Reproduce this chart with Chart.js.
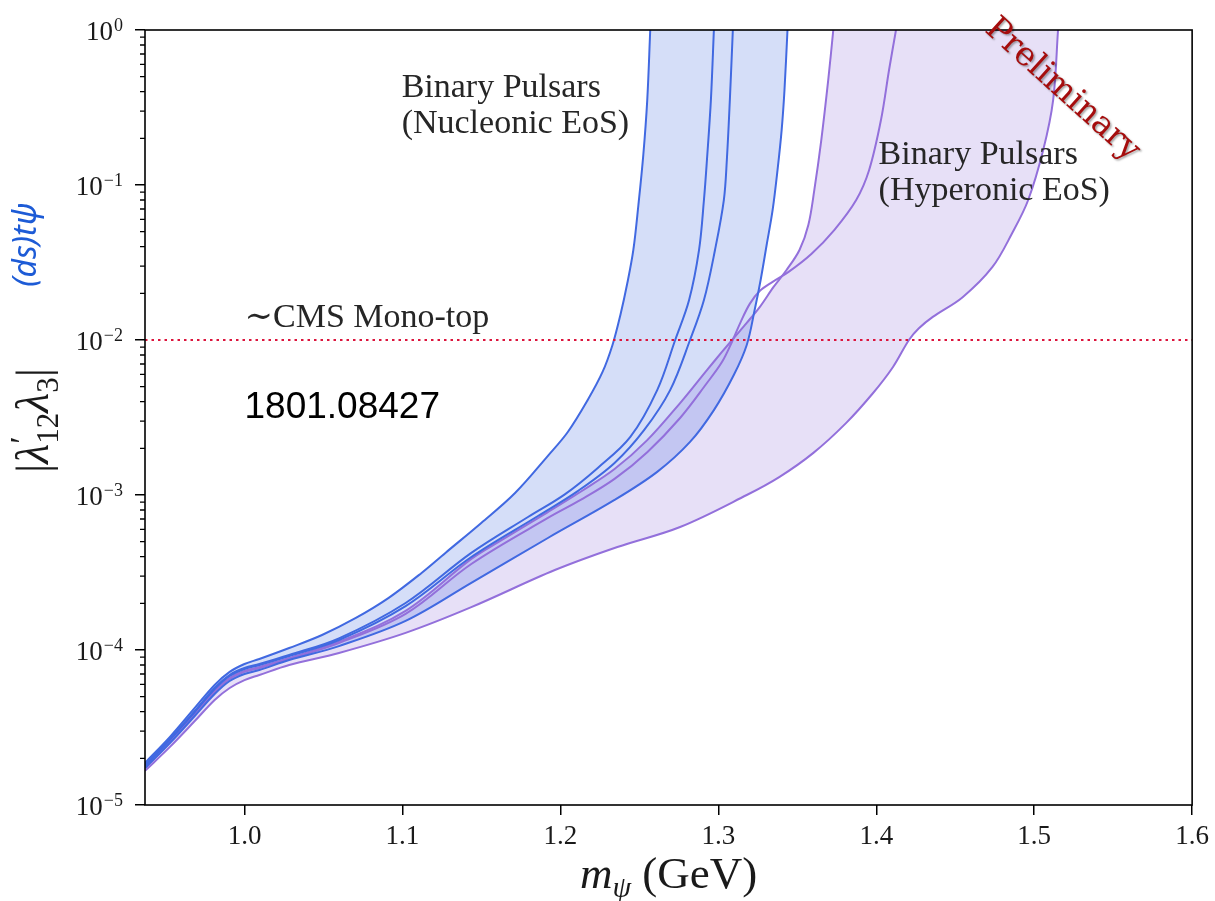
<!DOCTYPE html>
<html>
<head>
<meta charset="utf-8">
<title>Binary pulsar bounds</title>
<script src="https://cdn.jsdelivr.net/npm/chart.js@4.4.1/dist/chart.umd.min.js"></script>
<style>
  body { margin: 0; background: #fff; }
  #box { position: relative; width: 1215px; height: 901px; }
</style>
</head>
<body>
<div id="box"><canvas id="chart"></canvas></div>
<script>
// curves: m_psi (GeV) vs |lambda'_12 lambda_3|
// nucleonic EoS (blue), left edge to right edge
const nucAx = [0.9370, 0.9528, 0.9685, 0.9811, 0.9906, 1.0000, 1.0094, 1.0283, 1.0491, 1.0705, 1.0913, 1.1121, 1.1272, 1.1499, 1.1713, 1.1921, 1.2047, 1.2173, 1.2267, 1.2330, 1.2380, 1.2424, 1.2462, 1.2494, 1.2525, 1.2550, 1.2569];
const nucAy = [1.87e-5, 2.75e-5, 4.23e-5, 5.95e-5, 7.22e-5, 8.12e-5, 8.75e-5, 1.03e-4, 1.25e-4, 1.61e-4, 2.17e-4, 3.14e-4, 4.23e-4, 6.60e-4, 1.03e-3, 1.79e-3, 2.55e-3, 4.10e-3, 6.22e-3, 9.29e-3, 1.45e-2, 2.33e-2, 3.81e-2, 7.43e-2, 0.156, 0.353, 1];
const nucBx = [0.9370, 0.9528, 0.9685, 0.9811, 0.9906, 1.0000, 1.0094, 1.0283, 1.0598, 1.1020, 1.1436, 1.1795, 1.2028, 1.2235, 1.2443, 1.2613, 1.2727, 1.2815, 1.2878, 1.2909, 1.2928, 1.2953, 1.2972];
const nucBy = [1.81e-5, 2.67e-5, 4.04e-5, 5.69e-5, 6.90e-5, 7.65e-5, 8.12e-5, 9.29e-5, 1.19e-4, 2.01e-4, 4.23e-4, 7.21e-4, 1.01e-3, 1.49e-3, 2.37e-3, 4.75e-3, 1.00e-2, 1.81e-2, 3.81e-2, 8.00e-2, 0.145, 0.353, 1];
const nucCx = [0.9370, 0.9528, 0.9685, 0.9811, 0.9906, 1.0000, 1.0094, 1.0283, 1.0598, 1.1020, 1.1436, 1.1858, 1.2110, 1.2343, 1.2531, 1.2695, 1.2821, 1.2909, 1.2979, 1.3035, 1.3054, 1.3073, 1.3092];
const nucCy = [1.79e-5, 2.63e-5, 3.98e-5, 5.60e-5, 6.80e-5, 7.54e-5, 8.00e-5, 9.15e-5, 1.16e-4, 1.92e-4, 3.98e-4, 7.32e-4, 1.06e-3, 1.61e-3, 2.63e-3, 4.75e-3, 1.00e-2, 1.81e-2, 3.81e-2, 8.00e-2, 0.145, 0.353, 1];
const nucDx = [0.9370, 0.9528, 0.9685, 0.9811, 0.9906, 1.0000, 1.0094, 1.0283, 1.0598, 1.1020, 1.1436, 1.1921, 1.2343, 1.2613, 1.2821, 1.2972, 1.3098, 1.3180, 1.3230, 1.3268, 1.3306, 1.3344, 1.3375, 1.3401, 1.3419, 1.3438];
const nucDy = [1.73e-5, 2.51e-5, 3.75e-5, 5.20e-5, 6.31e-5, 7.00e-5, 7.43e-5, 8.61e-5, 1.06e-4, 1.54e-4, 2.71e-4, 5.28e-4, 9.29e-4, 1.41e-3, 2.20e-3, 3.53e-3, 5.94e-3, 9.29e-3, 1.56e-2, 2.44e-2, 4.10e-2, 6.90e-2, 0.125, 0.226, 0.410, 1];

// hyperonic EoS (purple)
const hypAx = [0.9370, 0.9528, 0.9685, 0.9811, 0.9906, 1.0000, 1.0094, 1.0283, 1.0598, 1.1020, 1.1436, 1.1606, 1.1921, 1.2128, 1.2343, 1.2550, 1.2758, 1.2928, 1.3023, 1.3098, 1.3180, 1.3262, 1.3350, 1.3432, 1.3514, 1.3570, 1.3608, 1.3652, 1.3696, 1.3728];
const hypAy = [1.76e-5, 2.59e-5, 3.92e-5, 5.44e-5, 6.59e-5, 7.32e-5, 7.77e-5, 8.88e-5, 1.13e-4, 1.79e-4, 3.87e-4, 4.97e-4, 7.76e-4, 1.05e-3, 1.47e-3, 2.26e-3, 3.92e-3, 6.40e-3, 8.37e-3, 1.03e-2, 1.29e-2, 1.63e-2, 2.20e-2, 2.83e-2, 3.81e-2, 5.52e-2, 9.29e-2, 0.195, 0.476, 1];
const hypBx = [0.9370, 0.9528, 0.9685, 0.9811, 0.9906, 1.0000, 1.0094, 1.0283, 1.0598, 1.1020, 1.1436, 1.1921, 1.2128, 1.2343, 1.2550, 1.2758, 1.2928, 1.3023, 1.3086, 1.3142, 1.3199, 1.3262, 1.3344, 1.3445, 1.3589, 1.3734, 1.3873, 1.3955, 1.4030, 1.4081, 1.4125];
const hypBy = [1.73e-5, 2.55e-5, 3.87e-5, 5.36e-5, 6.50e-5, 7.22e-5, 7.65e-5, 8.75e-5, 1.11e-4, 1.71e-4, 3.59e-4, 7.11e-4, 9.29e-4, 1.27e-3, 1.89e-3, 3.14e-3, 5.28e-3, 7.21e-3, 9.71e-3, 1.31e-2, 1.71e-2, 2.07e-2, 2.37e-2, 2.75e-2, 3.59e-2, 5.12e-2, 8.00e-2, 0.125, 0.263, 0.552, 1];
const hypEx = [0.9370, 0.9528, 0.9685, 0.9811, 0.9906, 1.0000, 1.0094, 1.0283, 1.0598, 1.1020, 1.1436, 1.1965, 1.2361, 1.2758, 1.3180, 1.3388, 1.3602, 1.3810, 1.3980, 1.4106, 1.4207, 1.4270, 1.4358, 1.4547, 1.4736, 1.4861, 1.4962, 1.5057, 1.5120, 1.5151];
const hypEy = [1.66e-5, 2.37e-5, 3.48e-5, 4.76e-5, 5.69e-5, 6.40e-5, 6.90e-5, 8.00e-5, 9.57e-5, 1.29e-4, 1.89e-4, 3.28e-4, 4.62e-4, 6.22e-4, 1.00e-3, 1.31e-3, 1.87e-3, 2.92e-3, 4.55e-3, 6.70e-3, 1.00e-2, 1.19e-2, 1.41e-2, 1.89e-2, 2.96e-2, 4.90e-2, 8.00e-2, 0.168, 0.353, 1];

const cmsLimit = 0.01;
const xMin = 0.937, xMax = 1.6;
const xTicks = [1.0, 1.1, 1.2, 1.3, 1.4, 1.5, 1.6];
const xTickLabels = ['1.0', '1.1', '1.2', '1.3', '1.4', '1.5', '1.6'];
const yTicks = [1e-5, 1e-4, 1e-3, 1e-2, 1e-1, 1];
const yTickExp = ['\u22125', '\u22124', '\u22123', '\u22122', '\u22121', '0'];

const blueLine = 'rgb(65,105,225)';
const blueFill = 'rgba(65,105,225,0.22)';
const purpleLine = 'rgb(147,112,219)';
const purpleFill = 'rgba(147,112,219,0.22)';
const serif = '"Liberation Serif", "DejaVu Serif", serif';

function pts(xs, ys) {
  return xs.map((v, i) => ({x: v, y: ys[i]}));
}

// outline of a band: up one edge, back down the other.
// the top points are doubled so the smoothing follows the edge lines
function band(xa, ya, xb, yb) {
  const a = pts(xa, ya);
  const b = pts(xb, yb).reverse();
  return [...a, a[a.length - 1], b[0], ...b];
}

function bandDs(data, color) {
  return {data: data, fill: 'shape', backgroundColor: color, borderColor: 'transparent',
    borderWidth: 0, pointRadius: 0, tension: 0.35, order: 2};
}
function lineDs(data, color) {
  return {data: data, fill: false, borderColor: color, borderWidth: 2,
    pointRadius: 0, tension: 0.35, order: 1};
}

function partsWidth(ctx, parts) {
  let w = 0;
  for (const p of parts) {
    ctx.font = p.f;
    if (!p.stay) w += ctx.measureText(p.t).width;
  }
  return w;
}
function drawParts(ctx, parts, x0, base) {
  let x = x0;
  for (const p of parts) {
    ctx.font = p.f;
    ctx.fillText(p.t, x, base + (p.dy || 0));
    if (!p.stay) x += ctx.measureText(p.t).width;
  }
}

const decorations = {
  id: 'decorations',
  afterDatasetsDraw(chart) {
    const {ctx, chartArea: a, scales: {y}} = chart;
    ctx.save();
    ctx.strokeStyle = '#000';
    ctx.lineWidth = 1.3;
    ctx.beginPath();
    for (let e = -5; e < 0; e++) {
      for (let k = 2; k < 10; k++) {
        const py = y.getPixelForValue(k * Math.pow(10, e));
        ctx.moveTo(a.left - 5, py);
        ctx.lineTo(a.left, py);
      }
    }
    ctx.stroke();
    ctx.lineWidth = 1.6;
    ctx.strokeRect(a.left, a.top, a.right - a.left, a.bottom - a.top);
    ctx.restore();
  },
  afterDraw(chart) {
    const {ctx, chartArea: a, scales: {x, y}} = chart;
    ctx.save();
    ctx.textBaseline = 'alphabetic';

    // log tick labels 10^n
    ctx.fillStyle = '#1a1a1a';
    ctx.textAlign = 'right';
    yTicks.forEach((v, i) => {
      const py = y.getPixelForValue(v);
      ctx.font = '18px ' + serif;
      const w = ctx.measureText(yTickExp[i]).width;
      ctx.fillText(yTickExp[i], a.left - 22, py + 1);
      ctx.font = '27px ' + serif;
      ctx.fillText('10', a.left - 23 - w, py + 10);
    });

    // axis titles
    ctx.textAlign = 'left';
    const xParts = [
      {t: 'm', f: 'italic 45px ' + serif},
      {t: '\u03C8', f: 'italic 30px ' + serif, dy: 9},
      {t: ' (GeV)', f: '45px ' + serif}
    ];
    drawParts(ctx, xParts, (a.left + a.right) / 2 - partsWidth(ctx, xParts) / 2, 888);

    const yParts = [
      {t: '|', f: '46px ' + serif},
      {t: '\u03BB', f: 'italic 46px ' + serif},
      {t: '\u2032', f: '34px ' + serif, dy: -15, stay: true},
      {t: '12', f: '31px ' + serif, dy: 10},
      {t: '\u03BB', f: 'italic 46px ' + serif},
      {t: '3', f: '31px ' + serif, dy: 10},
      {t: '|', f: '46px ' + serif}
    ];
    ctx.save();
    ctx.translate(48, (a.top + a.bottom) / 2 + 3);
    ctx.rotate(-Math.PI / 2);
    drawParts(ctx, yParts, -partsWidth(ctx, yParts) / 2, 0);
    ctx.restore();

    ctx.save();
    ctx.translate(36, 245);
    ctx.rotate(-Math.PI / 2);
    ctx.font = 'italic 32px "Noto Sans", sans-serif';
    ctx.fillStyle = '#1d5bd6';
    ctx.textAlign = 'center';
    ctx.fillText('(ds)t\u03C8', 0, 0);
    ctx.restore();

    // labels inside the plot
    ctx.fillStyle = '#262626';
    ctx.font = '34px ' + serif;
    let px = x.getPixelForValue(1.0995), py = y.getPixelForValue(0.37);
    ctx.fillText('Binary Pulsars', px, py);
    ctx.fillText('(Nucleonic EoS)', px, py + 36);
    px = x.getPixelForValue(1.4015); py = y.getPixelForValue(0.137);
    ctx.fillText('Binary Pulsars', px, py);
    ctx.fillText('(Hyperonic EoS)', px, py + 36);
    ctx.fillText('\u223CCMS Mono-top', x.getPixelForValue(1.0), y.getPixelForValue(0.0121));

    ctx.fillStyle = '#000';
    ctx.font = '37px "Liberation Sans", Arial, sans-serif';
    ctx.fillText('1801.08427', x.getPixelForValue(1.0), y.getPixelForValue(0.00314));

    // stamp
    ctx.save();
    ctx.translate(a.right - 130, a.top + 60);
    ctx.rotate(42 * Math.PI / 180);
    ctx.font = '33px "DejaVu Serif", serif';
    ctx.textAlign = 'center';
    ctx.textBaseline = 'middle';
    ctx.shadowColor = 'rgba(0,0,0,0.35)';
    ctx.shadowOffsetX = 1.5;
    ctx.shadowOffsetY = 1.5;
    ctx.shadowBlur = 2;
    ctx.fillStyle = '#a50d0d';
    ctx.fillText('Preliminary', 0, 0);
    ctx.restore();

    ctx.restore();
  }
};

const tickGrid = {drawOnChartArea: false, drawTicks: true, tickLength: 10, color: '#000', lineWidth: 1.5};

new Chart(document.getElementById('chart'), {
  type: 'line',
  data: {
    datasets: [
      bandDs(band(nucAx, nucAy, nucDx, nucDy), blueFill),
      bandDs(band(hypAx, hypAy, hypEx, hypEy), purpleFill),
      lineDs(pts(nucAx, nucAy), blueLine),
      lineDs(pts(nucBx, nucBy), blueLine),
      lineDs(pts(nucCx, nucCy), blueLine),
      lineDs(pts(nucDx, nucDy), blueLine),
      lineDs(pts(hypAx, hypAy), purpleLine),
      lineDs(pts(hypBx, hypBy), purpleLine),
      lineDs(pts(hypEx, hypEy), purpleLine),
      {data: [{x: xMin, y: cmsLimit}, {x: xMax, y: cmsLimit}], borderColor: '#dc143c',
        borderWidth: 2, borderDash: [2.5, 4], pointRadius: 0, fill: false, order: 0}
    ]
  },
  options: {
    responsive: true,
    maintainAspectRatio: false,
    animation: false,
    events: [],
    layout: {padding: {top: 30, right: 17, left: 0, bottom: 0}},
    plugins: {legend: {display: false}, tooltip: {enabled: false}},
    scales: {
      x: {
        type: 'linear', min: xMin, max: xMax,
        afterFit: s => { s.height = 96; },
        afterBuildTicks: s => { s.ticks = xTicks.map(v => ({value: v})); },
        grid: tickGrid,
        border: {display: false},
        ticks: {
          font: {family: 'Liberation Serif', size: 27}, color: '#1a1a1a', padding: 6,
          maxRotation: 0, autoSkip: false,
          callback: (v, i) => xTickLabels[i]
        }
      },
      y: {
        type: 'logarithmic', min: 1e-5, max: 1,
        afterFit: s => { s.width = 145; },
        afterBuildTicks: s => { s.ticks = yTicks.map(v => ({value: v})); },
        grid: tickGrid,
        border: {display: false},
        ticks: {display: false}
      }
    }
  },
  plugins: [decorations]
});
</script>
</body>
</html>
